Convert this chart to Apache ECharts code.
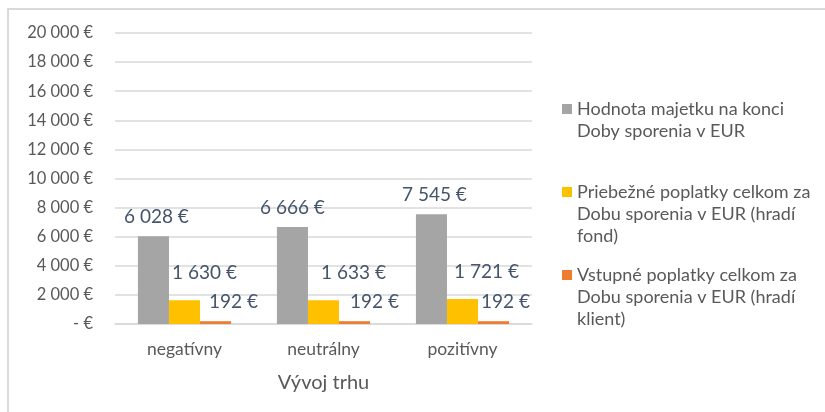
<!DOCTYPE html>
<html>
<head>
<meta charset="utf-8">
<script src="https://cdn.jsdelivr.net/npm/echarts@6/dist/echarts.min.js"></script>
<style>
  html, body { margin: 0; padding: 0; background: #fff; }
  #chart { width: 825px; height: 412px; }
</style>
</head>
<body>
<div id="chart"></div>
<script>
// categories and series values
var categories = ['negatívny', 'neutrálny', 'pozitívny'];
var seriesNames = [
  'Hodnota majetku na konci\nDoby sporenia v EUR',
  'Priebežné poplatky celkom za\nDobu sporenia v EUR (hradí\nfond)',
  'Vstupné poplatky celkom za\nDobu sporenia v EUR (hradí\nklient)'
];
var hodnota = [6028, 6666, 7545];
var priebezne = [1630, 1633, 1721];
var vstupne = [192, 192, 192];
var axisTitle = 'Vývoj trhu';

var font = 'Lato, "Open Sans", sans-serif';
var colors = ['#A5A5A5', '#FFC000', '#ED7D31'];
var LH = 22;

function eur(v) {
  if (v === 0) return '- €';
  return String(v).replace(/\B(?=(\d{3})+(?!\d))/g, ' ') + ' €';
}

var chart = echarts.init(document.getElementById('chart'));

// labels in the original sit a little to the right of their bars
function makeSeries(name, data, color, shifts, dist) {
  return {
    name: name,
    type: 'bar',
    barGap: '0%',
    barCategoryGap: '33%',
    itemStyle: { color: color },
    data: data.map(function (v, i) {
      return { value: v, label: { offset: [shifts[i], 0] } };
    }),
    label: {
      show: true,
      position: 'top',
      distance: dist,
      color: '#44546A',
      fontSize: 19,
      fontFamily: font,
      formatter: function (p) { return eur(p.value); }
    }
  };
}

// square icon aligned with the first text line
function makeLegend(name, top, lines) {
  var h = lines * LH;
  return {
    orient: 'vertical',
    left: 562,
    top: top,
    padding: 0,
    itemWidth: 10,
    itemHeight: h,
    itemGap: 7,
    icon: 'path://M0,6h10v10h-10zM0,0h0.001v0.001zM0,' + h + 'h0.001v0.001z',
    symbolKeepAspect: false,
    data: [name],
    selectedMode: false,
    textStyle: {
      color: '#595959',
      fontSize: 18,
      fontFamily: font,
      lineHeight: LH
    }
  };
}

var option = {
  animation: false,
  backgroundColor: '#fff',
  graphic: [{
    type: 'rect',
    shape: { x: 8, y: 9, width: 840, height: 430 },
    style: { fill: 'none', stroke: '#D9D9D9', lineWidth: 2 },
    silent: true
  }],
  grid: { left: 115, right: 293, top: 33, bottom: 88 },
  legend: [
    makeLegend(seriesNames[0], 98, 2),
    makeLegend(seriesNames[1], 181, 3),
    makeLegend(seriesNames[2], 264, 3)
  ],
  xAxis: {
    type: 'category',
    data: categories,
    name: axisTitle,
    nameLocation: 'middle',
    nameGap: 49,
    nameTextStyle: { color: '#595959', fontSize: 20, fontFamily: font },
    axisLine: { lineStyle: { color: '#D9D9D9', width: 1.5 } },
    axisTick: { show: false },
    axisLabel: { color: '#595959', fontSize: 17.5, fontFamily: font, margin: 16 }
  },
  yAxis: {
    type: 'value',
    min: 0,
    max: 20000,
    interval: 2000,
    axisLine: { show: false },
    axisTick: { show: false },
    splitLine: { lineStyle: { color: '#D9D9D9', width: 1.5 } },
    axisLabel: {
      color: '#595959',
      fontSize: 16.5,
      fontFamily: font,
      margin: 22,
      formatter: eur
    }
  },
  series: [
    makeSeries(seriesNames[0], hodnota, colors[0], [3, 0, 3], 10),
    makeSeries(seriesNames[1], priebezne, colors[1], [20, 30, 24], 18),
    makeSeries(seriesNames[2], vstupne, colors[2], [18, 20, 12], 10)
  ]
};

chart.setOption(option);
</script>
</body>
</html>
